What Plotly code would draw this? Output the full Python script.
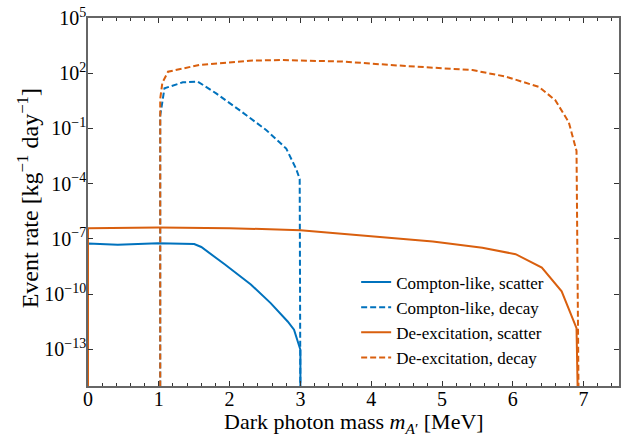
import plotly.graph_objects as go

BLUE = "#0072BD"
ORANGE = "#D95F0E"

# Compton-like, scatter
cs_x = [0.0, 0.0, 0.42, 0.99, 1.5, 1.6, 1.93, 2.3, 2.58, 2.82, 2.91, 3.0, 3.0]
cs_y = [1e-16, 5.5e-8, 4.7e-8, 5.8e-8, 5.2e-8, 3.6e-8, 4.1e-9, 3.3e-10, 3.2e-11, 3.2e-12, 1.15e-12, 9.3e-14, 1e-16]

# Compton-like, decay
cd_x = [1.02, 1.02, 1.08, 1.34, 1.55, 1.81, 2.14, 2.52, 2.8, 2.94, 2.99, 3.0]
cd_y = [1e-16, 0.5, 15, 32, 35, 8, 0.98, 0.08, 0.008, 6.3e-4, 1.8e-4, 1e-16]

# De-excitation, scatter
ds_x = [0.0, 0.0, 1.0, 2.0, 3.0, 3.93, 4.87, 5.57, 6.04, 6.41, 6.69, 6.9, 6.92]
ds_y = [1e-16, 3.8e-7, 4.1e-7, 3.8e-7, 2.9e-7, 1.45e-7, 7.1e-8, 3.3e-8, 1.45e-8, 2.7e-9, 1.4e-10, 1.4e-12, 1e-16]

# De-excitation, decay
dd_x = [1.02, 1.02, 1.05, 1.13, 1.57, 2.28, 2.74, 3.59, 4.49, 5.43, 5.9, 6.37, 6.6, 6.79, 6.9, 6.93]
dd_y = [1e-16, 4, 30, 120, 280, 480, 520, 430, 245, 148, 65, 18, 3.4, 0.22, 6e-3, 1e-16]

names = ["Compton-like, scatter", "Compton-like, decay", "De-excitation, scatter", "De-excitation, decay"]

x_ticks = [0, 1, 2, 3, 4, 5, 6, 7]
y_tick_exps = [5, 2, -1, -4, -7, -10, -13]

x_title = "Dark photon mass <i>m</i><sub><i>A</i>′</sub> [MeV]"
y_title = "Event rate [kg<sup>−1</sup> day<sup>−1</sup>]"

FONT = "Liberation Serif"

fig = go.Figure()
series = [
    (cs_x, cs_y, BLUE, "solid"),
    (cd_x, cd_y, BLUE, "6px,3px"),
    (ds_x, ds_y, ORANGE, "solid"),
    (dd_x, dd_y, ORANGE, "6px,3px"),
]
for (x, y, c, d), n in zip(series, names):
    fig.add_trace(go.Scatter(x=x, y=y, mode="lines", name=n,
                             line=dict(color=c, width=2, dash=d)))

fig.update_layout(
    width=621, height=436,
    margin=dict(l=88, r=2, t=18, b=50, autoexpand=False),
    paper_bgcolor="white", plot_bgcolor="white",
    font=dict(family=FONT, size=18, color="black"),
    showlegend=True,
    legend=dict(x=0.505, y=0.33, xanchor="left", yanchor="top",
                bgcolor="rgba(0,0,0,0)", borderwidth=0,
                font=dict(family=FONT, size=17), tracegroupgap=0),
    annotations=[
        dict(text=x_title, xref="paper", yref="paper", x=0.5, y=-0.1,
             xanchor="center", yanchor="middle", showarrow=False,
             font=dict(family=FONT, size=22)),
        dict(text=y_title, xref="paper", yref="paper", x=-0.113, y=0.51,
             xanchor="center", yanchor="middle", showarrow=False, textangle=-90,
             font=dict(family=FONT, size=24)),
    ],
)
fig.update_xaxes(
    range=[0, 7.5], tickvals=x_ticks, ticktext=[str(t) for t in x_ticks],
    ticks="inside", ticklen=5, tickcolor="#333", tickwidth=1,
    showline=True, linecolor="#666", linewidth=1.5, mirror="ticks",
    showgrid=False, zeroline=False, automargin=False,
    minor=dict(dtick=0.2, ticks="inside", ticklen=3, tickcolor="#333", showgrid=False),
    tickfont=dict(size=20), ticklabelstandoff=-6,
)
fig.update_yaxes(
    type="log", range=[-15, 5],
    tickvals=[10.0 ** e for e in y_tick_exps],
    ticktext=["10<sup>%s</sup>" % (str(e).replace("-", "−")) for e in y_tick_exps],
    ticks="inside", ticklen=5, tickcolor="#333", tickwidth=1,
    showline=True, linecolor="#666", linewidth=1.5, mirror="ticks",
    showgrid=False, zeroline=False, automargin=False,
    tickfont=dict(size=20), ticklabelstandoff=-4,
)

fig.write_html("out.html", post_script="document.body.style.margin='0';",
               config={"displayModeBar": False})
